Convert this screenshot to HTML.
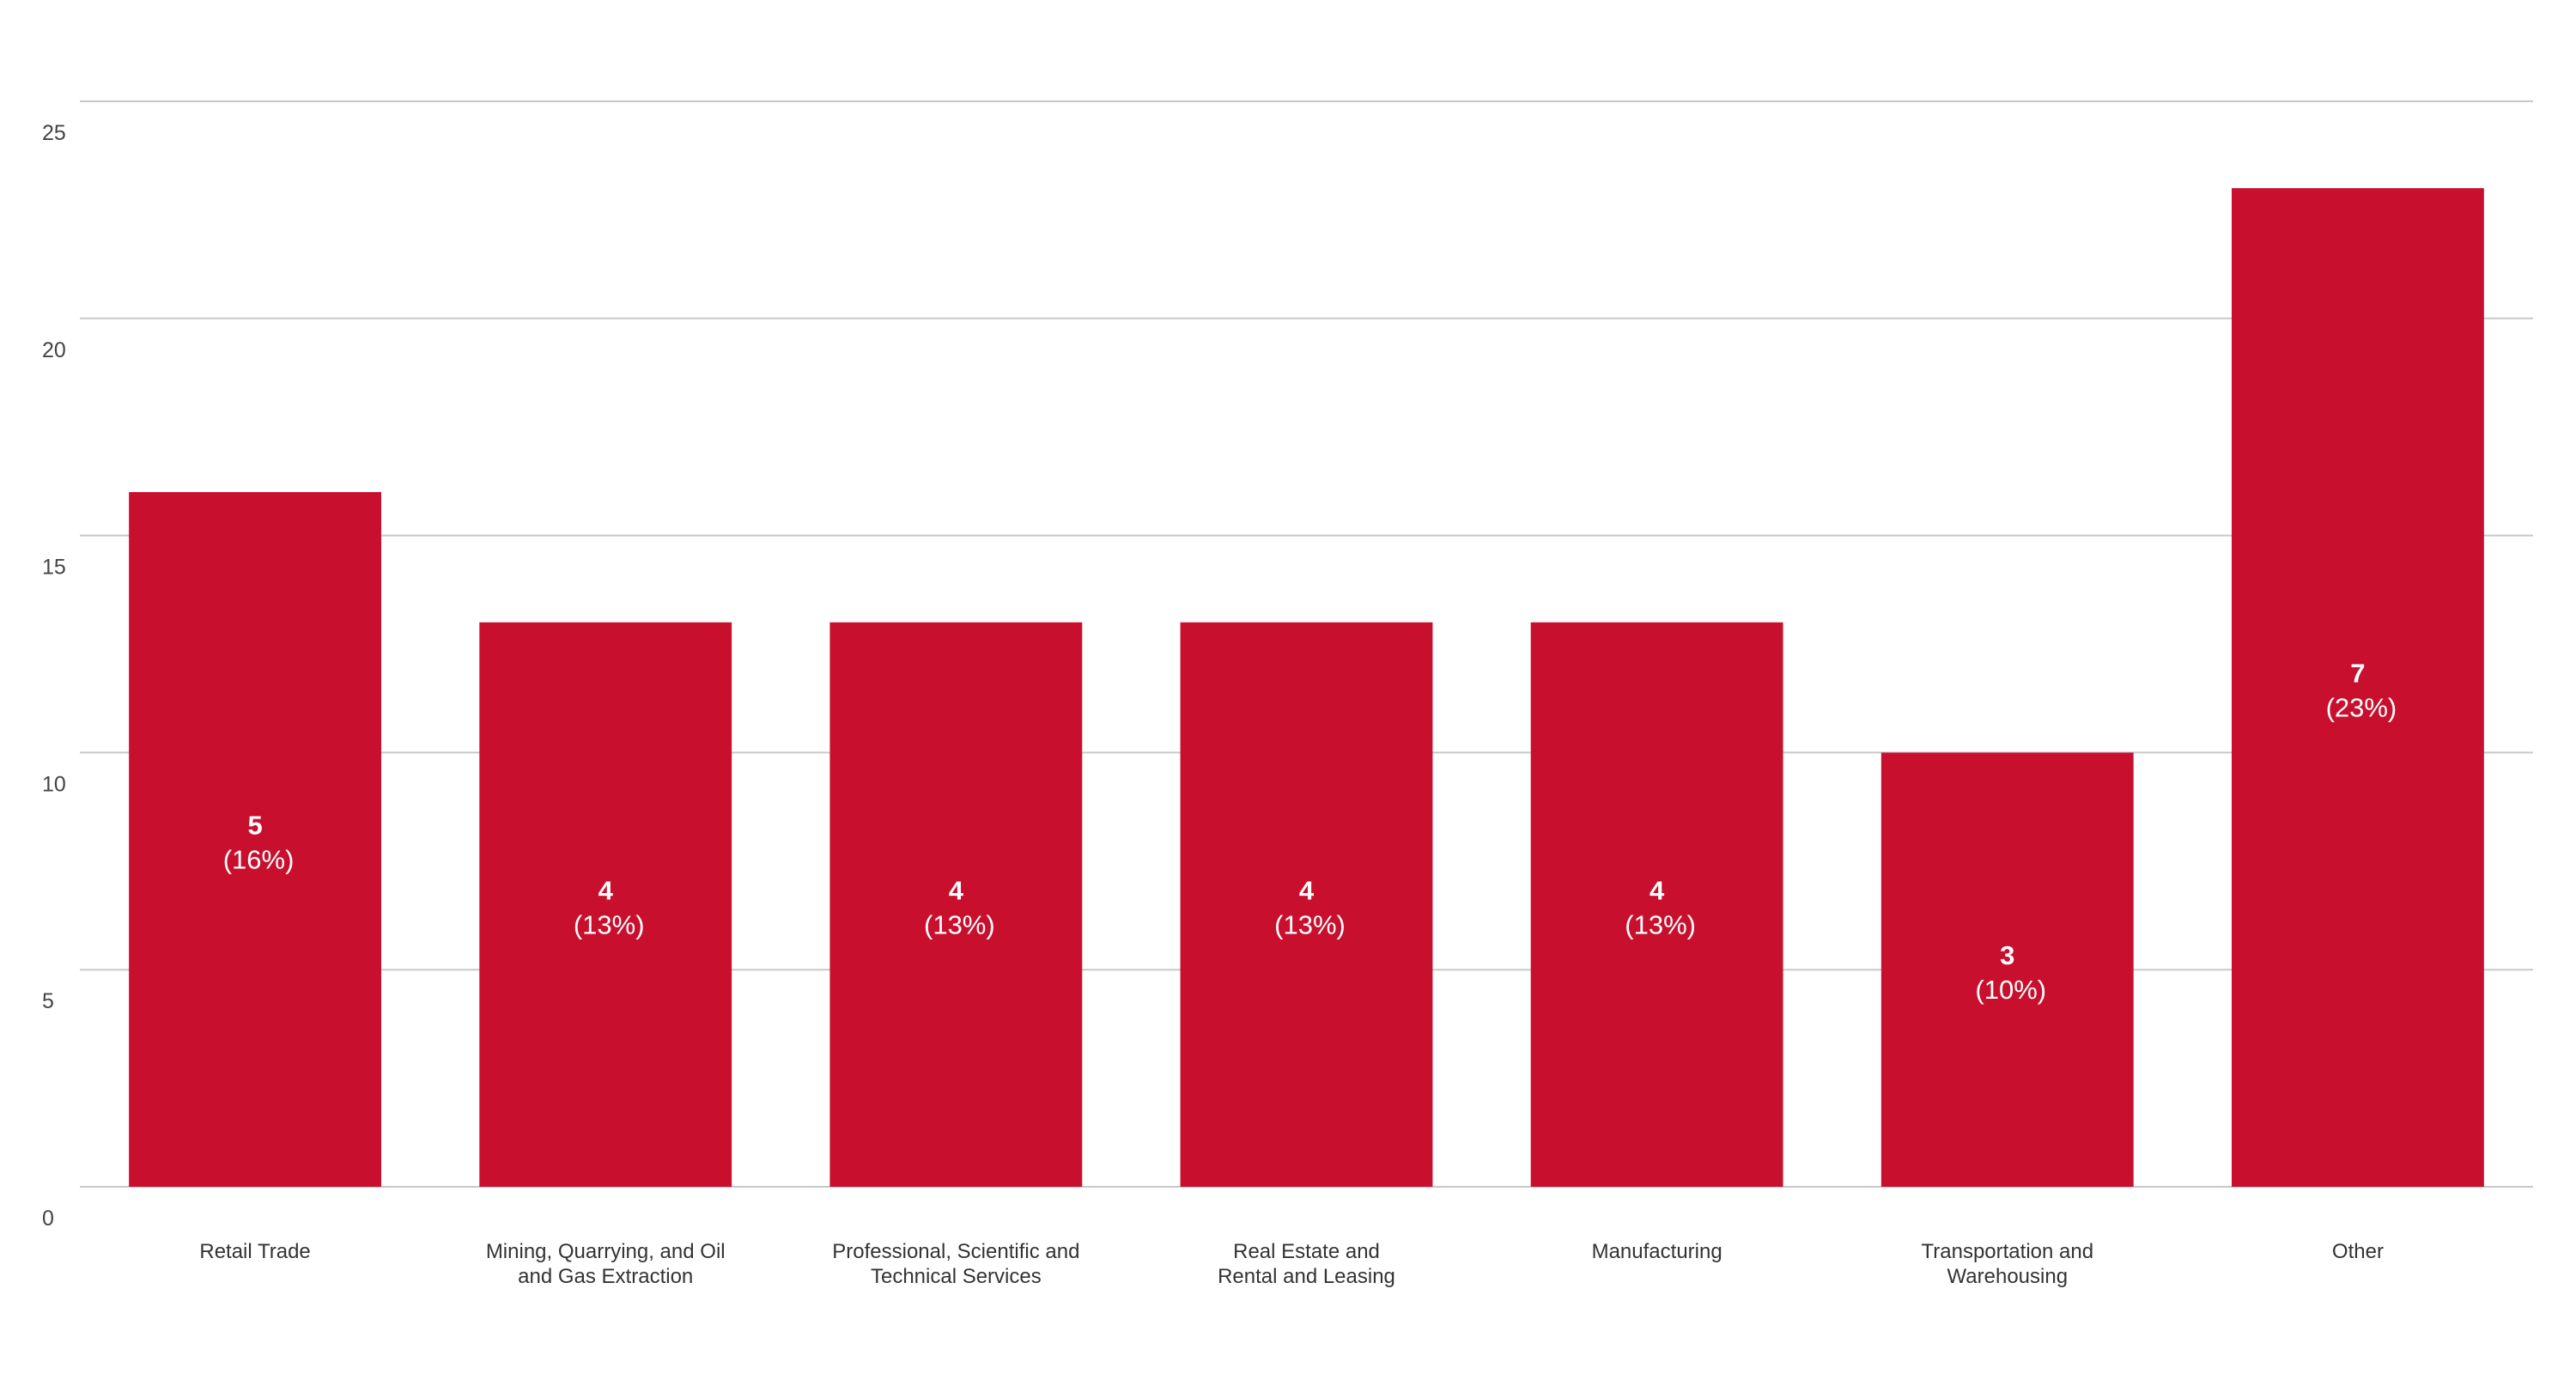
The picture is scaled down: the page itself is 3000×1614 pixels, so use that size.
<!DOCTYPE html>
<html><head><meta charset="utf-8"><style>
html,body{margin:0;padding:0;background:#fff;}
svg{display:block;font-family:"Liberation Sans",sans-serif;}
</style></head><body>
<svg id="chart" width="3000" height="1614" viewBox="0 0 3000 1614">
<g id="grid"></g>
<g id="yticks"></g>
<g id="bars"></g>
<g id="xlabels"></g>
</svg>
<script>
const categories = [["Retail Trade"],["Mining, Quarrying, and Oil","and Gas Extraction"],["Professional, Scientific and","Technical Services"],["Real Estate and","Rental and Leasing"],["Manufacturing"],["Transportation and","Warehousing"],["Other"]];
const percentValues = [16,13,13,13,13,10,23];
const counts = [5,4,4,4,4,3,7];
const yTicks = [0,5,10,15,20,25];

const NS="http://www.w3.org/2000/svg";
const left=93,right=2950,y0=1382,y25=118,yMax=25;
const band=(right-left)/categories.length, barW=band*0.72;
function y(v){return y0-(y0-y25)*v/yMax;}
function xc(i){return left+band*(i+0.5);}
function mk(tag,attrs,parent){const e=document.createElementNS(NS,tag);for(const k in attrs)e.setAttribute(k,attrs[k]);parent.appendChild(e);return e;}
const grid=document.getElementById('grid'),yt=document.getElementById('yticks'),bars=document.getElementById('bars'),xl=document.getElementById('xlabels');
yTicks.forEach(t=>{
  const l=mk('line',{x1:left,x2:right,y1:y(t),y2:y(t),stroke:'#c8c8c8','stroke-width':2},grid);
  
  
  const tx=mk('text',{x:49,y:y(t)+45,'font-size':25,fill:'#444'},yt);
  tx.textContent=t;
  
  
});
percentValues.forEach((v,i)=>{
  const r=mk('rect',{x:xc(i)-barW/2,y:y(v),width:barW,height:y0-y(v),fill:'#c8102e'},bars);
  
  
  const mid=(y(v)+y0)/2;
  const a=mk('text',{x:xc(i),y:mid-6,'text-anchor':'middle','font-size':31,'font-weight':'bold',fill:'#fff'},bars);
  a.textContent=counts[i];
  
  
  const b=mk('text',{x:xc(i)+4,y:mid+34,'text-anchor':'middle','font-size':31,fill:'#fff'},bars);
  b.textContent='('+v+'%)';
  
  
  categories[i].forEach((line,j)=>{
    const t=mk('text',{x:xc(i),y:1465+j*29,'text-anchor':'middle','font-size':24,fill:'#333'},xl);
    t.textContent=line;
    
    
  });
});
</script>
</body></html>
